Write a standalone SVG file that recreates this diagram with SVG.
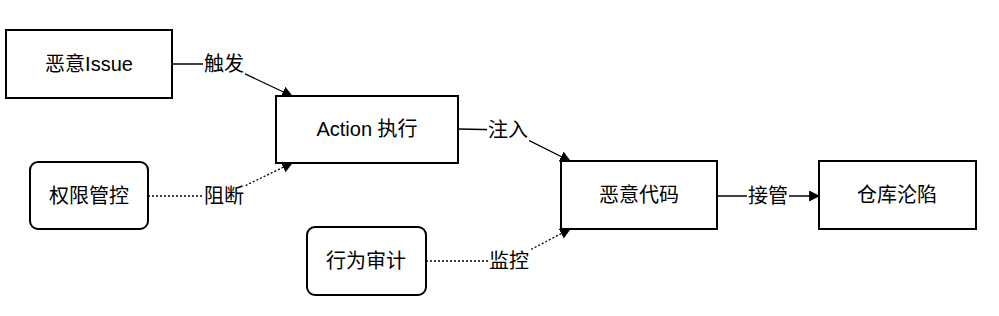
<svg xmlns="http://www.w3.org/2000/svg" width="999" height="316" viewBox="0 0 999 316">
<defs>
<style>
.box{fill:#fff;stroke:#000;stroke-width:2}
.t{font-family:"Liberation Sans","Noto Sans CJK SC",sans-serif;font-size:20px;fill:#000;text-anchor:middle;dominant-baseline:central}
.e{fill:none;stroke:#000;stroke-width:1.3}
.d{fill:none;stroke:#000;stroke-width:1.3;stroke-dasharray:2 2}
.lb{fill:#fff}
</style>
<marker id="ah" viewBox="0 0 10 10" refX="9" refY="5" markerWidth="11" markerHeight="11" markerUnits="userSpaceOnUse" orient="auto">
<path d="M0,0 L10,5 L0,10 z" fill="#000"/>
</marker>
</defs>
<g id="connectors">
<path class="e" d="M172,64 L224,64 L292,96" marker-end="url(#ah)"/>
<path class="d" d="M148,196 L224,196 L292,163" marker-end="url(#ah)"/>
<path class="e" d="M458,129 L508,130 L570,161" marker-end="url(#ah)"/>
<path class="d" d="M426,261 L509,261 L570,229" marker-end="url(#ah)"/>
<path class="e" d="M717,196 L819,196" marker-end="url(#ah)"/>
<rect class="lb" x="203" y="53" width="42" height="22"/>
<text class="t" x="224" y="64">触发</text>
<rect class="lb" x="203" y="185" width="42" height="22"/>
<text class="t" x="224" y="196">阻断</text>
<rect class="lb" x="487" y="119" width="42" height="22"/>
<text class="t" x="508" y="130">注入</text>
<rect class="lb" x="488" y="250" width="42" height="22"/>
<text class="t" x="509" y="261">监控</text>
<rect class="lb" x="747" y="185" width="42" height="22"/>
<text class="t" x="768" y="196">接管</text>
</g>
<g id="n1"><rect class="box" x="6" y="30" width="166" height="68"/><text class="t" x="89" y="64">恶意Issue</text></g>
<g id="n2"><rect class="box" x="276" y="96" width="182" height="67"/><text class="t" x="367" y="129">Action 执行</text></g>
<g id="n3"><rect class="box" x="30" y="162" width="118" height="67" rx="8"/><text class="t" x="89" y="196">权限管控</text></g>
<g id="n4"><rect class="box" x="561" y="161" width="156" height="68"/><text class="t" x="639" y="195">恶意代码</text></g>
<g id="n5"><rect class="box" x="819" y="161" width="157" height="68"/><text class="t" x="897" y="195">仓库沦陷</text></g>
<g id="n6"><rect class="box" x="307" y="227" width="119" height="68" rx="8"/><text class="t" x="366" y="261">行为审计</text></g>
</svg>
